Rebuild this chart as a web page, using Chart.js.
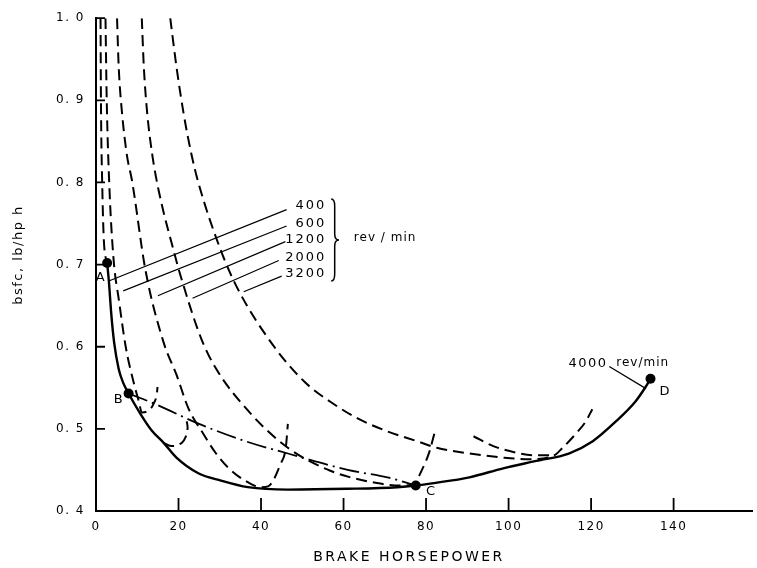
<!DOCTYPE html>
<html>
<head>
<meta charset="utf-8">
<title>bsfc vs brake horsepower</title>
<script src="https://cdn.jsdelivr.net/npm/chart.js@4.4.0/dist/chart.umd.min.js"></script>
<style>
    html, body { margin: 0; padding: 0; background: #fff; }
    #wrap { position: relative; width: 757px; height: 568px; }
</style>
</head>
<body>
<div id="wrap"><canvas id="bsfcChart"></canvas></div>
<script>
// Axis ticks
const hpTicks = [0, 20, 40, 60, 80, 100, 120, 140];
const bsfcTicks = [0.4, 0.5, 0.6, 0.7, 0.8, 0.9, 1.0];

// Constant-speed curves (brake hp, bsfc lb/hp h)
const rpm400Hp = [1.1, 1.2, 1.5, 1.9, 2.7];
const rpm400Bsfc = [1.0, 0.9, 0.8, 0.73, 0.702];

const rpm600Hp = [2.3, 2.6, 3.2, 4.2, 5.6, 7.2, 9.1, 10.4, 11.1, 12.3, 14.0, 14.8, 14.9];
const rpm600Bsfc = [1.0, 0.9, 0.8, 0.71, 0.655, 0.6, 0.557, 0.533, 0.52, 0.521, 0.531, 0.545, 0.551];

const hookHp = [16.4, 18.4, 20.8, 21.8, 22.2, 22.0];
const hookBsfc = [0.483, 0.479, 0.483, 0.491, 0.501, 0.509];

const rpm1200Hp = [5.1, 5.5, 6.3, 7.5, 8.7, 12, 16.4, 19.5, 22.4, 26, 29.1, 32, 36.1, 40, 41.7, 44.8, 46, 46.5];
const rpm1200Bsfc = [1.0, 0.941, 0.885, 0.833, 0.803, 0.693, 0.605, 0.566, 0.525, 0.494, 0.47, 0.453, 0.437, 0.429, 0.43, 0.458, 0.477, 0.506];

const rpm2000Hp = [11.1, 11.6, 12.4, 13.6, 15.2, 19.2, 20.7, 25.5, 28.9, 37.6, 46.5, 56.8, 68.1, 74, 77, 79, 80.8, 82];
const rpm2000Bsfc = [1.0, 0.94, 0.885, 0.835, 0.79, 0.71, 0.683, 0.61, 0.575, 0.518, 0.477, 0.449, 0.434, 0.431, 0.433, 0.45, 0.472, 0.494];

const rpm3200Hp = [18, 19.5, 21.2, 23.1, 24.8, 29.9, 34.2, 42.9, 50.6, 56.8, 63.3, 70.6, 77.8, 82.6, 90.5, 98.7, 105, 110.8, 113.1, 116.3, 118.7, 120.3];
const rpm3200Bsfc = [1.0, 0.941, 0.885, 0.835, 0.8, 0.722, 0.672, 0.602, 0.557, 0.533, 0.513, 0.497, 0.485, 0.477, 0.47, 0.465, 0.463, 0.467, 0.477, 0.494, 0.509, 0.524];

const rpm4000Hp = [91.5, 96.3, 101.9, 106, 110];
const rpm4000Bsfc = [0.491, 0.479, 0.471, 0.468, 0.468];

// Minimum bsfc envelope A-B-C-D
const envelopeHp = [2.7, 3.1, 3.7, 4.4, 5.5, 6.6, 7.9, 10.8, 13.5, 16.4, 19.5, 24.8, 30.3, 36.8, 46.5, 61, 73, 77.5, 81.9, 90.5, 98.7, 106.7, 114.6, 120.4, 126, 130.7, 133.2, 134.4];
const envelopeBsfc = [0.702, 0.681, 0.64, 0.605, 0.573, 0.556, 0.543, 0.518, 0.498, 0.483, 0.465, 0.446, 0.437, 0.429, 0.426, 0.427, 0.429, 0.431, 0.434, 0.441, 0.452, 0.461, 0.47, 0.485, 0.509, 0.533, 0.551, 0.561];

// Full-throttle line B to C
const fullThrottleHp = [7.9, 14, 25, 36.8, 46.5, 61, 70.6, 77.5];
const fullThrottleBsfc = [0.543, 0.531, 0.506, 0.484, 0.47, 0.45, 0.441, 0.431];

// Marked points
const markNames = ['A', 'B', 'C', 'D'];
const markHp = [2.7, 7.9, 77.5, 134.4];
const markBsfc = [0.702, 0.543, 0.431, 0.561];

const FONT = '"DejaVu Sans", "Liberation Sans", sans-serif';
const INK = '#000';

const toPoints = (xs, ys) => xs.map((x, i) => ({ x: x, y: ys[i] }));

function curve(xs, ys, dash, width, smooth) {
    return {
        data: toPoints(xs, ys),
        showLine: true,
        borderColor: INK,
        borderWidth: width,
        borderDash: dash,
        pointRadius: 0,
        fill: false,
        cubicInterpolationMode: smooth === 'tension' ? 'default' : 'monotone',
        tension: smooth === 'tension' ? 0.4 : 0
    };
}

// Labels, leaders and bracket, positioned in data units
const speedLabels = [
    { text: '400', hp: 55.8, bsfc: 0.772, from: [3.1, 0.680], to: [46.2, 0.767] },
    { text: '600', hp: 55.8, bsfc: 0.750, from: [6.6, 0.668], to: [46.2, 0.747] },
    { text: '1200', hp: 55.8, bsfc: 0.730, from: [15.0, 0.662], to: [45.9, 0.728] },
    { text: '2000', hp: 55.8, bsfc: 0.708, from: [23.4, 0.659], to: [44.3, 0.705] },
    { text: '3200', hp: 55.8, bsfc: 0.689, from: [35.8, 0.667], to: [45.0, 0.686] }
];
const markLabelPos = [[1.0, 0.684], [5.4, 0.536], [81.1, 0.424], [137.8, 0.545]];

const figureDecor = {
    id: 'figureDecor',
    beforeDraw(chart) {
        chart.ctx.letterSpacing = '1.5px';
    },
    afterDraw(chart) {
        const { ctx, chartArea } = chart;
        const xs = chart.scales.x, ys = chart.scales.y;
        const px = v => xs.getPixelForValue(v);
        const py = v => ys.getPixelForValue(v);

        ctx.save();
        ctx.strokeStyle = INK;
        ctx.fillStyle = INK;

        // tick marks pointing into the plot
        ctx.lineWidth = 1.8;
        ctx.beginPath();
        bsfcTicks.slice(1).forEach(v => {
            ctx.moveTo(chartArea.left, py(v));
            ctx.lineTo(chartArea.left + 9, py(v));
        });
        hpTicks.slice(1).forEach(v => {
            ctx.moveTo(px(v), chartArea.bottom);
            ctx.lineTo(px(v), chartArea.bottom - 13);
        });
        ctx.stroke();

        // leader lines to the speed labels
        ctx.lineWidth = 1.2;
        ctx.beginPath();
        speedLabels.forEach(l => {
            ctx.moveTo(px(l.from[0]), py(l.from[1]));
            ctx.lineTo(px(l.to[0]), py(l.to[1]));
        });
        ctx.moveTo(px(124.4), py(0.576));
        ctx.lineTo(px(133.3), py(0.549));
        ctx.stroke();

        ctx.textBaseline = 'middle';
        ctx.font = '13px ' + FONT;
        ctx.letterSpacing = '2px';
        ctx.textAlign = 'right';
        speedLabels.forEach(l => ctx.fillText(l.text, px(l.hp), py(l.bsfc)));

        // brace grouping the speeds
        const b0 = px(57.0), b1 = px(58.9), bm = b0 + (b1 - b0) * 0.45;
        const top = py(0.780), mid = py(0.730), bot = py(0.680);
        ctx.lineWidth = 1.5;
        ctx.beginPath();
        ctx.moveTo(b0, top);
        ctx.quadraticCurveTo(bm, top, bm, top + 7);
        ctx.lineTo(bm, mid - 6);
        ctx.quadraticCurveTo(bm, mid, b1, mid);
        ctx.quadraticCurveTo(bm, mid, bm, mid + 6);
        ctx.lineTo(bm, bot - 7);
        ctx.quadraticCurveTo(bm, bot, b0, bot);
        ctx.stroke();

        ctx.textAlign = 'left';
        ctx.font = '12px ' + FONT;
        ctx.letterSpacing = '1px';
        ctx.fillText('rev / min', px(62.5), py(0.732));

        ctx.font = '13px ' + FONT;
        ctx.letterSpacing = '1.5px';
        ctx.fillText('4000', px(114.5), py(0.579));
        ctx.font = '12px ' + FONT;
        ctx.letterSpacing = '1px';
        ctx.fillText('rev/min', px(126.1), py(0.580));

        // point letters
        ctx.textAlign = 'center';
        ctx.font = '13px ' + FONT;
        ctx.letterSpacing = '0px';
        markNames.forEach((n, i) => ctx.fillText(n, px(markLabelPos[i][0]), py(markLabelPos[i][1])));

        // axis titles
        ctx.font = '14px ' + FONT;
        ctx.letterSpacing = '2.5px';
        ctx.fillText('BRAKE HORSEPOWER', 409, 557);

        ctx.translate(19, 255);
        ctx.rotate(-Math.PI / 2);
        ctx.font = '13px ' + FONT;
        ctx.letterSpacing = '1.5px';
        ctx.fillText('bsfc, lb/hp h', 0, 0);
        ctx.restore();
    }
};

// Initialize Chart
function initChart() {
    const ctx = document.getElementById('bsfcChart').getContext('2d');
    const dashed = [11, 6];

    new Chart(ctx, {
        type: 'scatter',
        data: {
            datasets: [
                curve(rpm400Hp, rpm400Bsfc, dashed, 2),
                curve(rpm600Hp, rpm600Bsfc, dashed, 2),
                curve(hookHp, hookBsfc, dashed, 2, 'tension'),
                curve(rpm1200Hp, rpm1200Bsfc, dashed, 2),
                curve(rpm2000Hp, rpm2000Bsfc, dashed, 2),
                curve(rpm3200Hp, rpm3200Bsfc, dashed, 2),
                curve(rpm4000Hp, rpm4000Bsfc, dashed, 2),
                curve(fullThrottleHp, fullThrottleBsfc, [20, 5, 2, 5], 1.8),
                curve(envelopeHp, envelopeBsfc, [], 2.4),
                {
                    data: toPoints(markHp, markBsfc),
                    showLine: false,
                    pointRadius: 5,
                    pointBackgroundColor: INK,
                    pointBorderColor: INK,
                    pointBorderWidth: 0
                }
            ]
        },
        options: {
            responsive: true,
            maintainAspectRatio: false,
            animation: false,
            events: [],
            layout: { padding: { top: 11, right: 0, bottom: 0, left: 0 } },
            plugins: {
                legend: { display: false },
                tooltip: { enabled: false }
            },
            scales: {
                x: {
                    type: 'linear',
                    min: 0,
                    max: 159,
                    afterFit: s => { s.height = 57; },
                    afterBuildTicks: s => { s.ticks = hpTicks.map(v => ({ value: v })); },
                    grid: { drawOnChartArea: false, drawTicks: false },
                    border: { color: INK, width: 2 },
                    ticks: {
                        color: INK,
                        padding: 9,
                        maxRotation: 0,
                        autoSkip: false,
                        font: { family: FONT, size: 12 },
                        callback: v => String(v)
                    }
                },
                y: {
                    type: 'linear',
                    min: 0.4,
                    max: 1.0,
                    afterFit: s => { s.width = 96; },
                    afterBuildTicks: s => { s.ticks = bsfcTicks.map(v => ({ value: v })); },
                    grid: { drawOnChartArea: false, drawTicks: false },
                    border: { color: INK, width: 2 },
                    ticks: {
                        color: INK,
                        padding: 11,
                        autoSkip: false,
                        font: { family: FONT, size: 12 },
                        callback: v => v.toFixed(1).replace('.', '. ')
                    }
                }
            }
        },
        plugins: [figureDecor]
    });
}

document.addEventListener('DOMContentLoaded', initChart);
</script>
</body>
</html>
